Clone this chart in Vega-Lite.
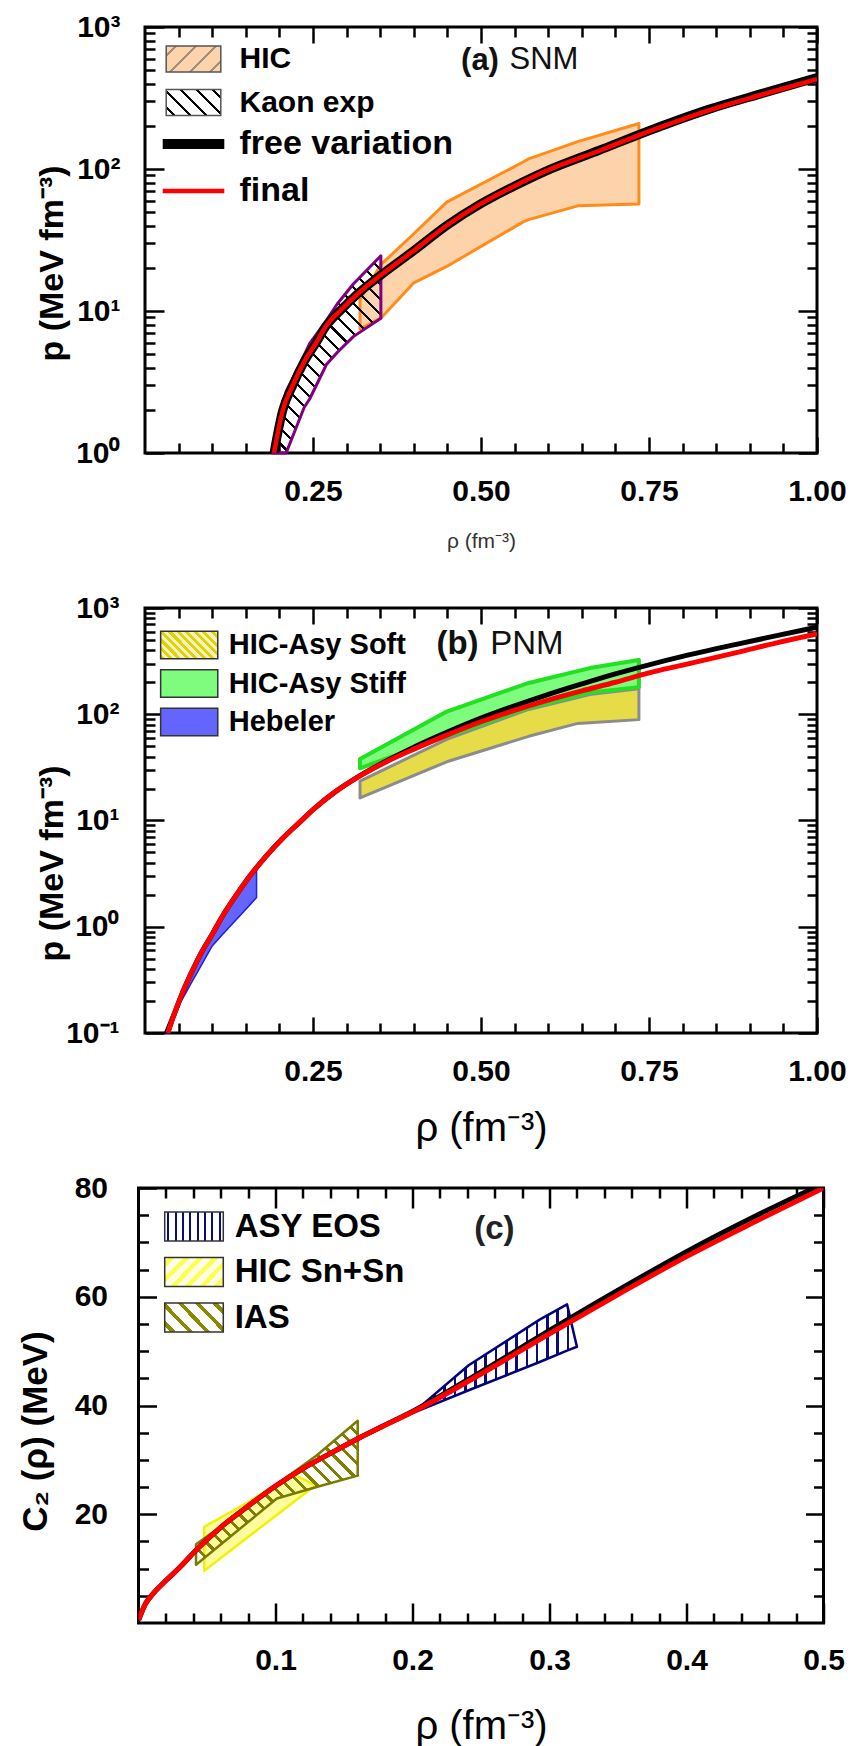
{
"$schema": "https://vega.github.io/schema/vega-lite/v6.json",
"padding": {"left": 16.5, "top": 10, "right": 4, "bottom": 2},
"background": "white",
"bounds": "flush", "center": true, "spacing": 155,
"resolve": {"scale": {"fill": "independent", "stroke": "independent"}},
"config": {
  "font": "Liberation Sans",
  "view": {"stroke": "black", "strokeWidth": 3},
  "axis": {"domain": false, "grid": false, "tickColor": "black", "tickWidth": 2.5, "labelFont": "Liberation Sans", "labelFontWeight": "bold", "labelFontSize": 30, "labelColor": "black", "titleFont": "Liberation Sans", "titleColor": "black", "labelFlush": false, "labelOverlap": false, "labelBound": false},
  "legend": {"labelFont": "Liberation Sans", "labelFontWeight": "bold", "labelColor": "black", "labelLimit": 600, "padding": 0, "labelBaseline": "middle"}
},
"vconcat": [
{
  "width": 672, "height": 426,
  "resolve": {"axis": {"x": "independent", "y": "independent"}},
  "layer": [
    {"data": {"values": [
      {"rho":0.32,"hi":12,"lo":7.5},{"rho":0.351,"hi":21.2,"lo":8.9},{"rho":0.4,"hi":35,"lo":15.8},{"rho":0.449,"hi":58.4,"lo":20.6},{"rho":0.5627,"hi":112,"lo":42.4},{"rho":0.571,"hi":118,"lo":44},{"rho":0.644,"hi":156,"lo":55},{"rho":0.735,"hi":209,"lo":56.6}]},
     "mark": {"type":"area","fill":"#fcd3ab","fillOpacity":1,"stroke":"#ff8c1a","strokeWidth":3,"strokeJoin":"round"},
     "encoding": {"x": {"field":"rho","type":"quantitative","scale":{"domain":[0,1],"nice":false,"zero":false},"axis":null},
       "y": {"field":"hi","type":"quantitative","scale":{"type":"log","domain":[1,1000]},"axis":null},
       "y2": {"field":"lo"}}},
    {"data": {"values": [
      {"rho":0.19,"hi":1.0,"lo":1.0},{"rho":0.206,"hi":2.36,"lo":1.0},{"rho":0.21,"hi":2.7,"lo":1.0},{"rho":0.237,"hi":4.9,"lo":2.1},{"rho":0.245,"hi":5.9,"lo":2.4},{"rho":0.27,"hi":8.6,"lo":4.2},{"rho":0.286,"hi":11.2,"lo":5.1},{"rho":0.31,"hi":15.5,"lo":6.6},{"rho":0.351,"hi":24.5,"lo":8.9}]},
     "mark": {"type":"area","stroke":"#800080","strokeWidth":3,"strokeJoin":"round","fill":{"gradient":"linear","x1":0,"y1":1,"x2":0.6527,"y2":-0.1905,"stops":[
{"offset":0,"color":"#000"},{"offset":0.01,"color":"#000"},{"offset":0.01,"color":"transparent"},{"offset":0.05,"color":"transparent"},
{"offset":0.05,"color":"#000"},{"offset":0.06,"color":"#000"},{"offset":0.06,"color":"transparent"},{"offset":0.1,"color":"transparent"},
{"offset":0.1,"color":"#000"},{"offset":0.11,"color":"#000"},{"offset":0.11,"color":"transparent"},{"offset":0.15,"color":"transparent"},
{"offset":0.15,"color":"#000"},{"offset":0.16,"color":"#000"},{"offset":0.16,"color":"transparent"},{"offset":0.2,"color":"transparent"},
{"offset":0.2,"color":"#000"},{"offset":0.21,"color":"#000"},{"offset":0.21,"color":"transparent"},{"offset":0.25,"color":"transparent"},
{"offset":0.25,"color":"#000"},{"offset":0.26,"color":"#000"},{"offset":0.26,"color":"transparent"},{"offset":0.3,"color":"transparent"},
{"offset":0.3,"color":"#000"},{"offset":0.31,"color":"#000"},{"offset":0.31,"color":"transparent"},{"offset":0.35,"color":"transparent"},
{"offset":0.35,"color":"#000"},{"offset":0.36,"color":"#000"},{"offset":0.36,"color":"transparent"},{"offset":0.4,"color":"transparent"},
{"offset":0.4,"color":"#000"},{"offset":0.41,"color":"#000"},{"offset":0.41,"color":"transparent"},{"offset":0.45,"color":"transparent"},
{"offset":0.45,"color":"#000"},{"offset":0.46,"color":"#000"},{"offset":0.46,"color":"transparent"},{"offset":0.5,"color":"transparent"},
{"offset":0.5,"color":"#000"},{"offset":0.51,"color":"#000"},{"offset":0.51,"color":"transparent"},{"offset":0.55,"color":"transparent"},
{"offset":0.55,"color":"#000"},{"offset":0.56,"color":"#000"},{"offset":0.56,"color":"transparent"},{"offset":0.6,"color":"transparent"},
{"offset":0.6,"color":"#000"},{"offset":0.61,"color":"#000"},{"offset":0.61,"color":"transparent"},{"offset":0.65,"color":"transparent"},
{"offset":0.65,"color":"#000"},{"offset":0.66,"color":"#000"},{"offset":0.66,"color":"transparent"},{"offset":0.7,"color":"transparent"},
{"offset":0.7,"color":"#000"},{"offset":0.71,"color":"#000"},{"offset":0.71,"color":"transparent"},{"offset":0.75,"color":"transparent"},
{"offset":0.75,"color":"#000"},{"offset":0.76,"color":"#000"},{"offset":0.76,"color":"transparent"},{"offset":0.8,"color":"transparent"},
{"offset":0.8,"color":"#000"},{"offset":0.81,"color":"#000"},{"offset":0.81,"color":"transparent"},{"offset":0.85,"color":"transparent"},
{"offset":0.85,"color":"#000"},{"offset":0.86,"color":"#000"},{"offset":0.86,"color":"transparent"},{"offset":0.9,"color":"transparent"},
{"offset":0.9,"color":"#000"},{"offset":0.91,"color":"#000"},{"offset":0.91,"color":"transparent"},{"offset":0.95,"color":"transparent"},
{"offset":0.95,"color":"#000"},{"offset":0.96,"color":"#000"},{"offset":0.96,"color":"transparent"},{"offset":1,"color":"transparent"}]}},
     "encoding": {"x": {"field":"rho","type":"quantitative","axis":null},
       "y": {"field":"hi","type":"quantitative","axis":null},
       "y2": {"field":"lo"}}},
    {"data": {"values": [{"name":"HIC"},{"name":"Kaon exp"}]},
     "mark": {"type":"point","filled":true,"size":0,"opacity":1,"stroke":"#555","strokeWidth":1.5},
     "encoding": {"fill": {"field":"name","type":"nominal",
       "scale": {"domain":["HIC","Kaon exp"],"range":[
         {"expr":"{gradient:'linear',x1:0,y1:0,x2:1.203,y2:0.577,stops:[{offset:0,color:'#fcd3aa'},{offset:0.1,color:'#fcd3aa'},{offset:0.1,color:'#a09080'},{offset:0.14,color:'#a09080'},{offset:0.14,color:'#fcd3aa'},{offset:0.35,color:'#fcd3aa'},{offset:0.35,color:'#a09080'},{offset:0.39,color:'#a09080'},{offset:0.39,color:'#fcd3aa'},{offset:0.6,color:'#fcd3aa'},{offset:0.6,color:'#a09080'},{offset:0.64,color:'#a09080'},{offset:0.64,color:'#fcd3aa'},{offset:0.85,color:'#fcd3aa'},{offset:0.85,color:'#a09080'},{offset:0.89,color:'#a09080'},{offset:0.89,color:'#fcd3aa'},{offset:1,color:'#fcd3aa'}]}"},
         {"expr":"{gradient:'linear',x1:0,y1:1,x2:1.203,y2:0.423,stops:[{offset:0,color:'#fff'},{offset:0.08,color:'#fff'},{offset:0.08,color:'#000'},{offset:0.12,color:'#000'},{offset:0.12,color:'#fff'},{offset:0.28,color:'#fff'},{offset:0.28,color:'#000'},{offset:0.32,color:'#000'},{offset:0.32,color:'#fff'},{offset:0.48,color:'#fff'},{offset:0.48,color:'#000'},{offset:0.52,color:'#000'},{offset:0.52,color:'#fff'},{offset:0.68,color:'#fff'},{offset:0.68,color:'#000'},{offset:0.72,color:'#000'},{offset:0.72,color:'#fff'},{offset:0.88,color:'#fff'},{offset:0.88,color:'#000'},{offset:0.92,color:'#000'},{offset:0.92,color:'#fff'},{offset:1,color:'#fff'}]}"}
       ]},
       "legend": {"title":null,"orient":"none","legendX":33.5,"legendY":17,"symbolType":"M-2.1,-1L2.1,-1L2.1,1L-2.1,1Z","symbolSize":676,"symbolStrokeColor":"#555","symbolStrokeWidth":1.5,"labelFontSize":30,"labelOffset":31,"rowPadding":11.5,"padding":0}}}},
    {"data": {"values": [
      {"rho":0.192,"p":1.0,"series":"free variation"},{"rho":0.205,"p":2.0,"series":"free variation"},{"rho":0.22,"p":3.0,"series":"free variation"},{"rho":0.237,"p":4.4,"series":"free variation"},{"rho":0.255,"p":6.0,"series":"free variation"},{"rho":0.27,"p":7.9,"series":"free variation"},{"rho":0.29,"p":10.0,"series":"free variation"},{"rho":0.318,"p":13.4,"series":"free variation"},{"rho":0.351,"p":17.9,"series":"free variation"},{"rho":0.4,"p":26.6,"series":"free variation"},{"rho":0.449,"p":40,"series":"free variation"},{"rho":0.5,"p":57,"series":"free variation"},{"rho":0.55,"p":76,"series":"free variation"},{"rho":0.595,"p":96,"series":"free variation"},{"rho":0.677,"p":136,"series":"free variation"},{"rho":0.75,"p":186,"series":"free variation"},{"rho":0.84,"p":264,"series":"free variation"},{"rho":0.92,"p":342,"series":"free variation"},{"rho":1.0,"p":440,"series":"free variation"}]},
     "mark": {"type":"line","clip":true,"interpolate":"monotone","strokeJoin":"round","strokeWidth":9},
     "encoding": {
       "x": {"field":"rho","type":"quantitative","axis":{"orient":"bottom","values":[0.05,0.1,0.15,0.2,0.25,0.3,0.35,0.4,0.45,0.5,0.55,0.6,0.65,0.7,0.75,0.8,0.85,0.9,0.95,1],
         "labelExpr":"datum.value == 0.25 || datum.value == 0.5 || datum.value == 0.75 || datum.value == 1 ? format(datum.value, '.2f') : ''",
         "tickSize":{"condition":{"test":"datum.value == 0.25 || datum.value == 0.5 || datum.value == 0.75 || datum.value == 1","value":-16},"value":-10},
         "labelPadding":39,"title":"ρ (fm⁻³)","titleFontSize":21,"titleFontWeight":"normal","titleColor":"#333","titleY":88,"titleBaseline":"middle"}},
       "y": {"field":"p","type":"quantitative","axis":{"orient":"left","values":[1,2,3,4,5,6,7,8,9,10,20,30,40,50,60,70,80,90,100,200,300,400,500,600,700,800,900,1000],
         "labelExpr":"datum.value == 1 ? '10⁰' : datum.value == 10 ? '10¹' : datum.value == 100 ? '10²' : datum.value == 1000 ? '10³' : ''",
         "tickSize":{"condition":{"test":"datum.value == 1 || datum.value == 10 || datum.value == 100 || datum.value == 1000","value":-19},"value":-10},
         "labelPadding":44,"title":"p (MeV fm⁻³)","titleFontSize":34,"titleFontWeight":"bold","titleX":-93,"titleY":236,"titleBaseline":"middle","titleAngle":-90}},
       "stroke": {"field":"series","type":"nominal","scale":{"domain":["free variation","final"],"range":["#000000","#ff0000"]},
         "legend":{"title":null,"orient":"none","legendX":31.5,"legendY":100,"symbolType":"M-4.4,0L4.4,0","symbolSize":196,"symbolStrokeWidth":{"expr":"datum.value == 'final' ? 4.5 : 10"},"labelFontSize":34,"labelOffset":29,"rowPadding":10,"padding":0}}}},
    {"data": {"values": [
      {"rho":0.192,"p":1.0,"series":"final"},{"rho":0.205,"p":2.0,"series":"final"},{"rho":0.22,"p":3.0,"series":"final"},{"rho":0.237,"p":4.4,"series":"final"},{"rho":0.255,"p":6.0,"series":"final"},{"rho":0.27,"p":7.9,"series":"final"},{"rho":0.29,"p":10.0,"series":"final"},{"rho":0.318,"p":13.4,"series":"final"},{"rho":0.351,"p":17.9,"series":"final"},{"rho":0.4,"p":26.6,"series":"final"},{"rho":0.449,"p":40,"series":"final"},{"rho":0.5,"p":57,"series":"final"},{"rho":0.55,"p":76,"series":"final"},{"rho":0.595,"p":96,"series":"final"},{"rho":0.677,"p":135,"series":"final"},{"rho":0.75,"p":184,"series":"final"},{"rho":0.84,"p":260,"series":"final"},{"rho":0.92,"p":336,"series":"final"},{"rho":1.0,"p":430,"series":"final"}]},
     "mark": {"type":"line","clip":true,"interpolate":"monotone","strokeJoin":"round","strokeWidth":4.5},
     "encoding": {
       "x": {"field":"rho","type":"quantitative","axis":{"orient":"top","values":[0.05,0.1,0.15,0.2,0.25,0.3,0.35,0.4,0.45,0.5,0.55,0.6,0.65,0.7,0.75,0.8,0.85,0.9,0.95,1],"labels":false,"title":null,
         "tickSize":{"condition":{"test":"datum.value == 0.25 || datum.value == 0.5 || datum.value == 0.75 || datum.value == 1","value":-16},"value":-10}}},
       "y": {"field":"p","type":"quantitative","axis":{"orient":"right","values":[1,2,3,4,5,6,7,8,9,10,20,30,40,50,60,70,80,90,100,200,300,400,500,600,700,800,900,1000],"labels":false,"title":null,
         "tickSize":{"condition":{"test":"datum.value == 1 || datum.value == 10 || datum.value == 100 || datum.value == 1000","value":-19},"value":-10}}},
       "stroke": {"field":"series","type":"nominal","legend":null}}},
    {"data": {"values": [{}]},
     "mark": {"type":"text","text":"(a)","font":"Liberation Sans","fontWeight":"bold","fontSize":31,"align":"center","baseline":"middle","color":"#111"},
     "encoding": {"x": {"datum":0.4985,"type":"quantitative","axis":null},"y": {"datum":576,"type":"quantitative","axis":null}}},
    {"data": {"values": [{}]},
     "mark": {"type":"text","text":"SNM","font":"Liberation Sans","fontWeight":"normal","fontSize":31,"align":"left","baseline":"middle","color":"#111"},
     "encoding": {"x": {"datum":0.5424,"type":"quantitative","axis":null},"y": {"datum":590,"type":"quantitative","axis":null}}}
  ]
},
{
    "width": 672, "height": 425,
    "resolve": {"axis": {"x": "independent", "y": "independent"}},
    "layer": [
      {"data": {"values": [
        {"rho":0.32,"hi":23.5,"lo":16.3},{"rho":0.449,"hi":58,"lo":35.7},{"rho":0.571,"hi":111,"lo":62},{"rho":0.644,"hi":143.6,"lo":82},{"rho":0.662,"hi":153,"lo":83.3},{"rho":0.735,"hi":174,"lo":89}]},
       "mark": {"type":"area","fill":"#e6dc48","fillOpacity":1,"stroke":"#8c8c8c","strokeWidth":3,"strokeJoin":"round"},
       "encoding": {"x": {"field":"rho","type":"quantitative","scale":{"domain":[0,1],"nice":false,"zero":false},"axis":null},
         "y": {"field":"hi","type":"quantitative","scale":{"type":"log","domain":[0.1,1000]},"axis":null},
         "y2": {"field":"lo"}}},
      {"data": {"values": [
        {"rho":0.32,"hi":38,"lo":31},{"rho":0.449,"hi":106,"lo":62},{"rho":0.571,"hi":197,"lo":115},{"rho":0.662,"hi":272,"lo":160},{"rho":0.735,"hi":324,"lo":180}]},
       "mark": {"type":"area","fill":"#7dfc7d","fillOpacity":1,"stroke":"#22e022","strokeWidth":4,"strokeJoin":"round"},
       "encoding": {"x": {"field":"rho","type":"quantitative","axis":null},
         "y": {"field":"hi","type":"quantitative","axis":null},
         "y2": {"field":"lo"}}},
      {"data": {"values": [
        {"rho":0.032,"hi":0.1,"lo":0.1},{"rho":0.0365,"hi":0.12,"lo":0.1},{"rho":0.045,"hi":0.16,"lo":0.145},{"rho":0.054,"hi":0.225,"lo":0.2},{"rho":0.07,"hi":0.38,"lo":0.305},{"rho":0.0825,"hi":0.55,"lo":0.42},{"rho":0.1,"hi":0.85,"lo":0.66},{"rho":0.115,"hi":1.25,"lo":0.84},{"rho":0.135,"hi":1.95,"lo":1.15},{"rho":0.156,"hi":3.0,"lo":1.6},{"rho":0.166,"hi":3.5,"lo":1.88}]},
       "mark": {"type":"area","fill":"#6464ff","fillOpacity":1,"stroke":"#1e1ee6","strokeWidth":1.5,"strokeJoin":"round"},
       "encoding": {"x": {"field":"rho","type":"quantitative","axis":null},
         "y": {"field":"hi","type":"quantitative","axis":null},
         "y2": {"field":"lo"}}},
      {"data": {"values": [{"name":"HIC-Asy Soft"},{"name":"HIC-Asy Stiff"},{"name":"Hebeler"}]},
       "mark": {"type":"point","filled":true,"size":0,"opacity":1,"stroke":"#333","strokeWidth":1.5},
       "encoding": {"fill": {"field":"name","type":"nominal",
         "scale": {"domain":["HIC-Asy Soft","HIC-Asy Stiff","Hebeler"],"range":[
           {"expr":"{gradient:'linear',x1:0,y1:1,x2:1.203,y2:0.423,stops:[{offset:0,color:'#e0d400'},{offset:0.05,color:'#e0d400'},{offset:0.05,color:'#f2f0c4'},{offset:0.1,color:'#f2f0c4'},{offset:0.1,color:'#e0d400'},{offset:0.15,color:'#e0d400'},{offset:0.15,color:'#f2f0c4'},{offset:0.2,color:'#f2f0c4'},{offset:0.2,color:'#e0d400'},{offset:0.25,color:'#e0d400'},{offset:0.25,color:'#f2f0c4'},{offset:0.3,color:'#f2f0c4'},{offset:0.3,color:'#e0d400'},{offset:0.35,color:'#e0d400'},{offset:0.35,color:'#f2f0c4'},{offset:0.4,color:'#f2f0c4'},{offset:0.4,color:'#e0d400'},{offset:0.45,color:'#e0d400'},{offset:0.45,color:'#f2f0c4'},{offset:0.5,color:'#f2f0c4'},{offset:0.5,color:'#e0d400'},{offset:0.55,color:'#e0d400'},{offset:0.55,color:'#f2f0c4'},{offset:0.6,color:'#f2f0c4'},{offset:0.6,color:'#e0d400'},{offset:0.65,color:'#e0d400'},{offset:0.65,color:'#f2f0c4'},{offset:0.7,color:'#f2f0c4'},{offset:0.7,color:'#e0d400'},{offset:0.75,color:'#e0d400'},{offset:0.75,color:'#f2f0c4'},{offset:0.8,color:'#f2f0c4'},{offset:0.8,color:'#e0d400'},{offset:0.85,color:'#e0d400'},{offset:0.85,color:'#f2f0c4'},{offset:0.9,color:'#f2f0c4'},{offset:0.9,color:'#e0d400'},{offset:0.95,color:'#e0d400'},{offset:0.95,color:'#f2f0c4'},{offset:1,color:'#f2f0c4'}]}"},
           "#7dfc7d", "#6464ff"]},
         "legend": {"title":null,"orient":"none","legendX":29.2,"legendY":22,"symbolType":"M-2.07,-1L2.07,-1L2.07,1L-2.07,1Z","symbolSize":762,"symbolStrokeColor":"#333","symbolStrokeWidth":1.5,"labelFontSize":29,"labelOffset":24.5,"rowPadding":4.5,"padding":0}}}},
      {"data": {"values": [
        {"rho":0.032,"p":0.1},{"rho":0.045,"p":0.16},{"rho":0.054,"p":0.225},{"rho":0.07,"p":0.38},{"rho":0.0825,"p":0.55},{"rho":0.1,"p":0.85},{"rho":0.115,"p":1.25},{"rho":0.135,"p":1.95},{"rho":0.156,"p":3.0},{"rho":0.18,"p":4.6},{"rho":0.205,"p":6.8},{"rho":0.23,"p":9.6},{"rho":0.251,"p":12.8},{"rho":0.285,"p":19},{"rho":0.32,"p":26.5},{"rho":0.36,"p":36.5},{"rho":0.4,"p":49},{"rho":0.45,"p":68},{"rho":0.5,"p":92},{"rho":0.55,"p":120},{"rho":0.595,"p":150},{"rho":0.65,"p":193},{"rho":0.7,"p":240},{"rho":0.75,"p":292},{"rho":0.8,"p":350},{"rho":0.88,"p":455},{"rho":0.94,"p":550},{"rho":1.0,"p":660}]},
       "mark": {"type":"line","clip":true,"interpolate":"monotone","stroke":"#000000","strokeWidth":5,"strokeJoin":"round"},
       "encoding": {
         "x": {"field":"rho","type":"quantitative","axis":{"orient":"bottom","values":[0.05,0.1,0.15,0.2,0.25,0.3,0.35,0.4,0.45,0.5,0.55,0.6,0.65,0.7,0.75,0.8,0.85,0.9,0.95,1],
           "labelExpr":"datum.value == 0.25 || datum.value == 0.5 || datum.value == 0.75 || datum.value == 1 ? format(datum.value, '.2f') : ''",
           "tickSize":{"condition":{"test":"datum.value == 0.25 || datum.value == 0.5 || datum.value == 0.75 || datum.value == 1","value":-16},"value":-10},
           "labelPadding":39,"title":"ρ (fm⁻³)","titleFontSize":40,"titleFontWeight":"normal","titleY":95,"titleBaseline":"middle"}},
         "y": {"field":"p","type":"quantitative","axis":{"orient":"left","values":[0.1,0.2,0.3,0.4,0.5,0.6,0.7,0.8,0.9,1,2,3,4,5,6,7,8,9,10,20,30,40,50,60,70,80,90,100,200,300,400,500,600,700,800,900,1000],
           "labelExpr":"datum.value == 0.1 ? '10⁻¹' : datum.value == 1 ? '10⁰' : datum.value == 10 ? '10¹' : datum.value == 100 ? '10²' : datum.value == 1000 ? '10³' : ''",
           "tickSize":{"condition":{"test":"datum.value == 0.1 || datum.value == 1 || datum.value == 10 || datum.value == 100 || datum.value == 1000","value":-19},"value":-10},
           "labelPadding":45,"title":"p (MeV fm⁻³)","titleFontSize":34,"titleFontWeight":"bold","titleX":-93,"titleY":255,"titleBaseline":"middle","titleAngle":-90}}}},
      {"data": {"values": [
        {"rho":0.034,"p":0.1},{"rho":0.045,"p":0.16},{"rho":0.054,"p":0.225},{"rho":0.07,"p":0.38},{"rho":0.0825,"p":0.55},{"rho":0.1,"p":0.85},{"rho":0.115,"p":1.25},{"rho":0.135,"p":1.95},{"rho":0.156,"p":3.0},{"rho":0.18,"p":4.6},{"rho":0.205,"p":6.8},{"rho":0.23,"p":9.6},{"rho":0.251,"p":12.8},{"rho":0.285,"p":19},{"rho":0.32,"p":26.3},{"rho":0.36,"p":36},{"rho":0.4,"p":47},{"rho":0.45,"p":64},{"rho":0.5,"p":85},{"rho":0.55,"p":109},{"rho":0.6,"p":136},{"rho":0.65,"p":166},{"rho":0.7,"p":200},{"rho":0.75,"p":245},{"rho":0.8,"p":290},{"rho":0.88,"p":380},{"rho":0.94,"p":470},{"rho":1.0,"p":570}]},
       "mark": {"type":"line","clip":true,"interpolate":"monotone","stroke":"#ff0000","strokeWidth":5,"strokeJoin":"round"},
       "encoding": {
         "x": {"field":"rho","type":"quantitative","axis":{"orient":"top","values":[0.05,0.1,0.15,0.2,0.25,0.3,0.35,0.4,0.45,0.5,0.55,0.6,0.65,0.7,0.75,0.8,0.85,0.9,0.95,1],"labels":false,"title":null,
           "tickSize":{"condition":{"test":"datum.value == 0.25 || datum.value == 0.5 || datum.value == 0.75 || datum.value == 1","value":-16},"value":-10}}},
         "y": {"field":"p","type":"quantitative","axis":{"orient":"right","values":[0.1,0.2,0.3,0.4,0.5,0.6,0.7,0.8,0.9,1,2,3,4,5,6,7,8,9,10,20,30,40,50,60,70,80,90,100,200,300,400,500,600,700,800,900,1000],"labels":false,"title":null,
           "tickSize":{"condition":{"test":"datum.value == 0.1 || datum.value == 1 || datum.value == 10 || datum.value == 100 || datum.value == 1000","value":-19},"value":-10}}}}},
      {"data": {"values": [{}]},
       "mark": {"type":"text","text":"(b)","font":"Liberation Sans","fontWeight":"bold","fontSize":33,"align":"center","baseline":"middle","color":"#111"},
       "encoding": {"x": {"datum":0.465,"type":"quantitative","axis":null},"y": {"datum":455,"type":"quantitative","axis":null}}},
      {"data": {"values": [{}]},
       "mark": {"type":"text","text":"PNM","font":"Liberation Sans","fontWeight":"normal","fontSize":33,"align":"left","baseline":"middle","color":"#111"},
       "encoding": {"x": {"datum":0.5137,"type":"quantitative","axis":null},"y": {"datum":455,"type":"quantitative","axis":null}}}
    ]
},
{
    "width": 685, "height": 435,
    "resolve": {"axis": {"x": "independent", "y": "independent"}},
    "layer": [
      {"data": {"values": [
        {"rho":0.048,"hi":17.7,"lo":9.6},{"rho":0.08,"hi":22.2,"lo":15.8},{"rho":0.113,"hi":27.4,"lo":22.2},{"rho":0.129,"hi":25.3,"lo":25.3}]},
       "mark": {"type":"area","fill":"#fdfd9e","fillOpacity":1,"stroke":"#f2f200","strokeWidth":2.5,"strokeJoin":"round"},
       "encoding": {"x": {"field":"rho","type":"quantitative","scale":{"domain":[0,0.5],"nice":false,"zero":false},"axis":null},
         "y": {"field":"hi","type":"quantitative","scale":{"domain":[0,80],"nice":false},"axis":null},
         "y2": {"field":"lo"}}},
      {"data": {"values": [
        {"rho":0.042,"hi":14.5,"lo":10.7},{"rho":0.07,"hi":19.5,"lo":16.5},{"rho":0.101,"hi":25.5,"lo":22.9},{"rho":0.13,"hi":30.8,"lo":25.0},{"rho":0.16,"hi":37.2,"lo":27.1}]},
       "mark": {"type":"area","stroke":"#7a7a00","strokeWidth":2.5,"strokeJoin":"round","fill":{"gradient":"linear","x1":0,"y1":1,"x2":1.055,"y2":0.062,"stops":[
{"offset":0,"color":"#7f7f00"},{"offset":0.014,"color":"#7f7f00"},{"offset":0.014,"color":"transparent"},{"offset":0.05,"color":"transparent"},
{"offset":0.05,"color":"#7f7f00"},{"offset":0.064,"color":"#7f7f00"},{"offset":0.064,"color":"transparent"},{"offset":0.1,"color":"transparent"},
{"offset":0.1,"color":"#7f7f00"},{"offset":0.114,"color":"#7f7f00"},{"offset":0.114,"color":"transparent"},{"offset":0.15,"color":"transparent"},
{"offset":0.15,"color":"#7f7f00"},{"offset":0.164,"color":"#7f7f00"},{"offset":0.164,"color":"transparent"},{"offset":0.2,"color":"transparent"},
{"offset":0.2,"color":"#7f7f00"},{"offset":0.214,"color":"#7f7f00"},{"offset":0.214,"color":"transparent"},{"offset":0.25,"color":"transparent"},
{"offset":0.25,"color":"#7f7f00"},{"offset":0.264,"color":"#7f7f00"},{"offset":0.264,"color":"transparent"},{"offset":0.3,"color":"transparent"},
{"offset":0.3,"color":"#7f7f00"},{"offset":0.314,"color":"#7f7f00"},{"offset":0.314,"color":"transparent"},{"offset":0.35,"color":"transparent"},
{"offset":0.35,"color":"#7f7f00"},{"offset":0.364,"color":"#7f7f00"},{"offset":0.364,"color":"transparent"},{"offset":0.4,"color":"transparent"},
{"offset":0.4,"color":"#7f7f00"},{"offset":0.414,"color":"#7f7f00"},{"offset":0.414,"color":"transparent"},{"offset":0.45,"color":"transparent"},
{"offset":0.45,"color":"#7f7f00"},{"offset":0.464,"color":"#7f7f00"},{"offset":0.464,"color":"transparent"},{"offset":0.5,"color":"transparent"},
{"offset":0.5,"color":"#7f7f00"},{"offset":0.514,"color":"#7f7f00"},{"offset":0.514,"color":"transparent"},{"offset":0.55,"color":"transparent"},
{"offset":0.55,"color":"#7f7f00"},{"offset":0.564,"color":"#7f7f00"},{"offset":0.564,"color":"transparent"},{"offset":0.6,"color":"transparent"},
{"offset":0.6,"color":"#7f7f00"},{"offset":0.614,"color":"#7f7f00"},{"offset":0.614,"color":"transparent"},{"offset":0.65,"color":"transparent"},
{"offset":0.65,"color":"#7f7f00"},{"offset":0.664,"color":"#7f7f00"},{"offset":0.664,"color":"transparent"},{"offset":0.7,"color":"transparent"},
{"offset":0.7,"color":"#7f7f00"},{"offset":0.714,"color":"#7f7f00"},{"offset":0.714,"color":"transparent"},{"offset":0.75,"color":"transparent"},
{"offset":0.75,"color":"#7f7f00"},{"offset":0.764,"color":"#7f7f00"},{"offset":0.764,"color":"transparent"},{"offset":0.8,"color":"transparent"},
{"offset":0.8,"color":"#7f7f00"},{"offset":0.814,"color":"#7f7f00"},{"offset":0.814,"color":"transparent"},{"offset":0.85,"color":"transparent"},
{"offset":0.85,"color":"#7f7f00"},{"offset":0.864,"color":"#7f7f00"},{"offset":0.864,"color":"transparent"},{"offset":0.9,"color":"transparent"},
{"offset":0.9,"color":"#7f7f00"},{"offset":0.914,"color":"#7f7f00"},{"offset":0.914,"color":"transparent"},{"offset":0.95,"color":"transparent"},
{"offset":0.95,"color":"#7f7f00"},{"offset":0.964,"color":"#7f7f00"},{"offset":0.964,"color":"transparent"},{"offset":1,"color":"transparent"}]}},
       "encoding": {"x": {"field":"rho","type":"quantitative","axis":null},
         "y": {"field":"hi","type":"quantitative","axis":null},
         "y2": {"field":"lo"}}},
      {"data": {"values": [
        {"rho":0.2,"hi":38.6,"lo":38.6},{"rho":0.241,"hi":47.4,"lo":42.8},{"rho":0.2928,"hi":55.8,"lo":48.0},{"rho":0.3128,"hi":58.6,"lo":50.1},{"rho":0.32,"hi":50.8,"lo":50.8}]},
       "mark": {"type":"area","stroke":"#000080","strokeWidth":2.5,"strokeJoin":"round","fill":{"gradient":"linear","x1":0,"y1":0,"x2":1,"y2":0,"stops":[
{"offset":0,"color":"#0b0b7a"},{"offset":0.016,"color":"#0b0b7a"},{"offset":0.016,"color":"transparent"},{"offset":0.0625,"color":"transparent"},
{"offset":0.0625,"color":"#0b0b7a"},{"offset":0.0785,"color":"#0b0b7a"},{"offset":0.0785,"color":"transparent"},{"offset":0.125,"color":"transparent"},
{"offset":0.125,"color":"#0b0b7a"},{"offset":0.141,"color":"#0b0b7a"},{"offset":0.141,"color":"transparent"},{"offset":0.1875,"color":"transparent"},
{"offset":0.1875,"color":"#0b0b7a"},{"offset":0.2035,"color":"#0b0b7a"},{"offset":0.2035,"color":"transparent"},{"offset":0.25,"color":"transparent"},
{"offset":0.25,"color":"#0b0b7a"},{"offset":0.266,"color":"#0b0b7a"},{"offset":0.266,"color":"transparent"},{"offset":0.3125,"color":"transparent"},
{"offset":0.3125,"color":"#0b0b7a"},{"offset":0.3285,"color":"#0b0b7a"},{"offset":0.3285,"color":"transparent"},{"offset":0.375,"color":"transparent"},
{"offset":0.375,"color":"#0b0b7a"},{"offset":0.391,"color":"#0b0b7a"},{"offset":0.391,"color":"transparent"},{"offset":0.4375,"color":"transparent"},
{"offset":0.4375,"color":"#0b0b7a"},{"offset":0.4535,"color":"#0b0b7a"},{"offset":0.4535,"color":"transparent"},{"offset":0.5,"color":"transparent"},
{"offset":0.5,"color":"#0b0b7a"},{"offset":0.516,"color":"#0b0b7a"},{"offset":0.516,"color":"transparent"},{"offset":0.5625,"color":"transparent"},
{"offset":0.5625,"color":"#0b0b7a"},{"offset":0.5785,"color":"#0b0b7a"},{"offset":0.5785,"color":"transparent"},{"offset":0.625,"color":"transparent"},
{"offset":0.625,"color":"#0b0b7a"},{"offset":0.641,"color":"#0b0b7a"},{"offset":0.641,"color":"transparent"},{"offset":0.6875,"color":"transparent"},
{"offset":0.6875,"color":"#0b0b7a"},{"offset":0.7035,"color":"#0b0b7a"},{"offset":0.7035,"color":"transparent"},{"offset":0.75,"color":"transparent"},
{"offset":0.75,"color":"#0b0b7a"},{"offset":0.766,"color":"#0b0b7a"},{"offset":0.766,"color":"transparent"},{"offset":0.8125,"color":"transparent"},
{"offset":0.8125,"color":"#0b0b7a"},{"offset":0.8285,"color":"#0b0b7a"},{"offset":0.8285,"color":"transparent"},{"offset":0.875,"color":"transparent"},
{"offset":0.875,"color":"#0b0b7a"},{"offset":0.891,"color":"#0b0b7a"},{"offset":0.891,"color":"transparent"},{"offset":0.9375,"color":"transparent"},
{"offset":0.9375,"color":"#0b0b7a"},{"offset":0.9535,"color":"#0b0b7a"},{"offset":0.9535,"color":"transparent"},{"offset":1,"color":"transparent"}]}},
       "encoding": {"x": {"field":"rho","type":"quantitative","axis":null},
         "y": {"field":"hi","type":"quantitative","axis":null},
         "y2": {"field":"lo"}}},
      {"data": {"values": [{"name":"ASY EOS"},{"name":"HIC Sn+Sn"},{"name":"IAS"}]},
       "mark": {"type":"point","filled":true,"size":0,"opacity":1,"stroke":"#333","strokeWidth":1.5},
       "encoding": {"fill": {"field":"name","type":"nominal",
         "scale": {"domain":["ASY EOS","HIC Sn+Sn","IAS"],"range":[
           {"expr":"{gradient:'linear',x1:0,y1:0,x2:1,y2:0,stops:[{offset:0,color:'#fff'},{offset:0.045,color:'#fff'},{offset:0.045,color:'#0b0b7a'},{offset:0.08,color:'#0b0b7a'},{offset:0.08,color:'#fff'},{offset:0.17,color:'#fff'},{offset:0.17,color:'#0b0b7a'},{offset:0.205,color:'#0b0b7a'},{offset:0.205,color:'#fff'},{offset:0.295,color:'#fff'},{offset:0.295,color:'#0b0b7a'},{offset:0.33,color:'#0b0b7a'},{offset:0.33,color:'#fff'},{offset:0.42,color:'#fff'},{offset:0.42,color:'#0b0b7a'},{offset:0.455,color:'#0b0b7a'},{offset:0.455,color:'#fff'},{offset:0.545,color:'#fff'},{offset:0.545,color:'#0b0b7a'},{offset:0.58,color:'#0b0b7a'},{offset:0.58,color:'#fff'},{offset:0.67,color:'#fff'},{offset:0.67,color:'#0b0b7a'},{offset:0.705,color:'#0b0b7a'},{offset:0.705,color:'#fff'},{offset:0.795,color:'#fff'},{offset:0.795,color:'#0b0b7a'},{offset:0.83,color:'#0b0b7a'},{offset:0.83,color:'#fff'},{offset:0.92,color:'#fff'},{offset:0.92,color:'#0b0b7a'},{offset:0.955,color:'#0b0b7a'},{offset:0.955,color:'#fff'},{offset:1,color:'#fff'}]}"},
           {"expr":"{gradient:'linear',x1:0,y1:0,x2:1.203,y2:0.577,stops:[{offset:0,color:'#ffffe6'},{offset:0.05,color:'#ffffe6'},{offset:0.05,color:'#ffff50'},{offset:0.12,color:'#ffff50'},{offset:0.12,color:'#ffffe6'},{offset:0.217,color:'#ffffe6'},{offset:0.217,color:'#ffff50'},{offset:0.287,color:'#ffff50'},{offset:0.287,color:'#ffffe6'},{offset:0.383,color:'#ffffe6'},{offset:0.383,color:'#ffff50'},{offset:0.453,color:'#ffff50'},{offset:0.453,color:'#ffffe6'},{offset:0.55,color:'#ffffe6'},{offset:0.55,color:'#ffff50'},{offset:0.62,color:'#ffff50'},{offset:0.62,color:'#ffffe6'},{offset:0.717,color:'#ffffe6'},{offset:0.717,color:'#ffff50'},{offset:0.787,color:'#ffff50'},{offset:0.787,color:'#ffffe6'},{offset:0.883,color:'#ffffe6'},{offset:0.883,color:'#ffff50'},{offset:0.953,color:'#ffff50'},{offset:0.953,color:'#ffffe6'},{offset:1,color:'#ffffe6'}]}"},
           {"expr":"{gradient:'linear',x1:0,y1:1,x2:1.203,y2:0.423,stops:[{offset:0,color:'#fff'},{offset:0.07,color:'#fff'},{offset:0.07,color:'#8a8a00'},{offset:0.13,color:'#8a8a00'},{offset:0.13,color:'#fff'},{offset:0.27,color:'#fff'},{offset:0.27,color:'#8a8a00'},{offset:0.33,color:'#8a8a00'},{offset:0.33,color:'#fff'},{offset:0.47,color:'#fff'},{offset:0.47,color:'#8a8a00'},{offset:0.53,color:'#8a8a00'},{offset:0.53,color:'#fff'},{offset:0.67,color:'#fff'},{offset:0.67,color:'#8a8a00'},{offset:0.73,color:'#8a8a00'},{offset:0.73,color:'#fff'},{offset:0.87,color:'#fff'},{offset:0.87,color:'#8a8a00'},{offset:0.93,color:'#8a8a00'},{offset:0.93,color:'#fff'},{offset:1,color:'#fff'}]}"}
         ]},
         "legend": {"title":null,"orient":"none","legendX":39,"legendY":22,"symbolType":"M-2.02,-1L2.02,-1L2.02,1L-2.02,1Z","symbolSize":841,"symbolStrokeColor":"#333","symbolStrokeWidth":1.5,"labelFontSize":33,"labelOffset":24.2,"rowPadding":10.5,"padding":0}}}},
      {"data": {"values": [
        {"rho":0,"c":0.5},{"rho":0.005,"c":3.5},{"rho":0.01,"c":5.2},{"rho":0.02,"c":7.8},{"rho":0.03,"c":10.2},{"rho":0.0416,"c":13.3},{"rho":0.06,"c":17.6},{"rho":0.08,"c":21.5},{"rho":0.1,"c":25.2},{"rho":0.12,"c":28.4},{"rho":0.14,"c":31.2},{"rho":0.16,"c":33.9},{"rho":0.18,"c":36.4},{"rho":0.2,"c":38.9},{"rho":0.25,"c":46.2},{"rho":0.3,"c":53.8},{"rho":0.35,"c":61.2},{"rho":0.4,"c":68.3},{"rho":0.45,"c":74.8},{"rho":0.493,"c":80}]},
       "mark": {"type":"line","clip":true,"interpolate":"monotone","stroke":"#000000","strokeWidth":5,"strokeJoin":"round"},
       "encoding": {
         "x": {"field":"rho","type":"quantitative","axis":{"orient":"bottom","values":[0.02,0.04,0.06,0.08,0.1,0.12,0.14,0.16,0.18,0.2,0.22,0.24,0.26,0.28,0.3,0.32,0.34,0.36,0.38,0.4,0.42,0.44,0.46,0.48,0.5],
           "labelExpr":"datum.value == 0.1 || datum.value == 0.2 || datum.value == 0.3 || datum.value == 0.4 || datum.value == 0.5 ? format(datum.value, '.1f') : ''",
           "tickSize":{"condition":{"test":"datum.value == 0.1 || datum.value == 0.2 || datum.value == 0.3 || datum.value == 0.4 || datum.value == 0.5","value":-20},"value":-10},
           "labelPadding":42.4,"title":"ρ (fm⁻³)","titleFontSize":40,"titleFontWeight":"normal","titleY":103,"titleBaseline":"middle"}},
         "y": {"field":"c","type":"quantitative","axis":{"orient":"left","values":[5,10,15,20,25,30,35,40,45,50,55,60,65,70,75,80],
           "labelExpr":"datum.value % 20 == 0 ? datum.label : ''",
           "tickSize":{"condition":{"test":"datum.value % 20 == 0","value":-18},"value":-10},
           "labelPadding":49,"title":"C₂ (ρ) (MeV)","titleFontSize":35,"titleFontWeight":"bold","titleX":-103,"titleY":243,"titleBaseline":"middle","titleAngle":-90}}}},
      {"data": {"values": [
        {"rho":0,"c":0.5},{"rho":0.005,"c":3.5},{"rho":0.01,"c":5.2},{"rho":0.02,"c":7.8},{"rho":0.03,"c":10.2},{"rho":0.0416,"c":13.3},{"rho":0.06,"c":17.6},{"rho":0.08,"c":21.5},{"rho":0.1,"c":25.2},{"rho":0.12,"c":28.4},{"rho":0.14,"c":31.2},{"rho":0.16,"c":33.9},{"rho":0.18,"c":36.4},{"rho":0.2,"c":38.8},{"rho":0.25,"c":45.8},{"rho":0.3,"c":53.2},{"rho":0.35,"c":60.4},{"rho":0.4,"c":67.4},{"rho":0.45,"c":73.8},{"rho":0.5,"c":80}]},
       "mark": {"type":"line","clip":true,"interpolate":"monotone","stroke":"#ff0000","strokeWidth":5,"strokeJoin":"round"},
       "encoding": {
         "x": {"field":"rho","type":"quantitative","axis":{"orient":"top","values":[0.02,0.04,0.06,0.08,0.1,0.12,0.14,0.16,0.18,0.2,0.22,0.24,0.26,0.28,0.3,0.32,0.34,0.36,0.38,0.4,0.42,0.44,0.46,0.48,0.5],"labels":false,"title":null,
           "tickSize":{"condition":{"test":"datum.value == 0.1 || datum.value == 0.2 || datum.value == 0.3 || datum.value == 0.4 || datum.value == 0.5","value":-20},"value":-10}}},
         "y": {"field":"c","type":"quantitative","axis":{"orient":"right","values":[5,10,15,20,25,30,35,40,45,50,55,60,65,70,75,80],"labels":false,"title":null,
           "tickSize":{"condition":{"test":"datum.value % 20 == 0","value":-18},"value":-10}}}}},
      {"data": {"values": [{}]},
       "mark": {"type":"text","text":"(c)","font":"Liberation Sans","fontWeight":"bold","fontSize":33,"align":"center","baseline":"middle","color":"#222"},
       "encoding": {"x": {"datum":0.2598,"type":"quantitative","axis":null},"y": {"datum":72.5,"type":"quantitative","axis":null}}}
    ]
}
]
}
